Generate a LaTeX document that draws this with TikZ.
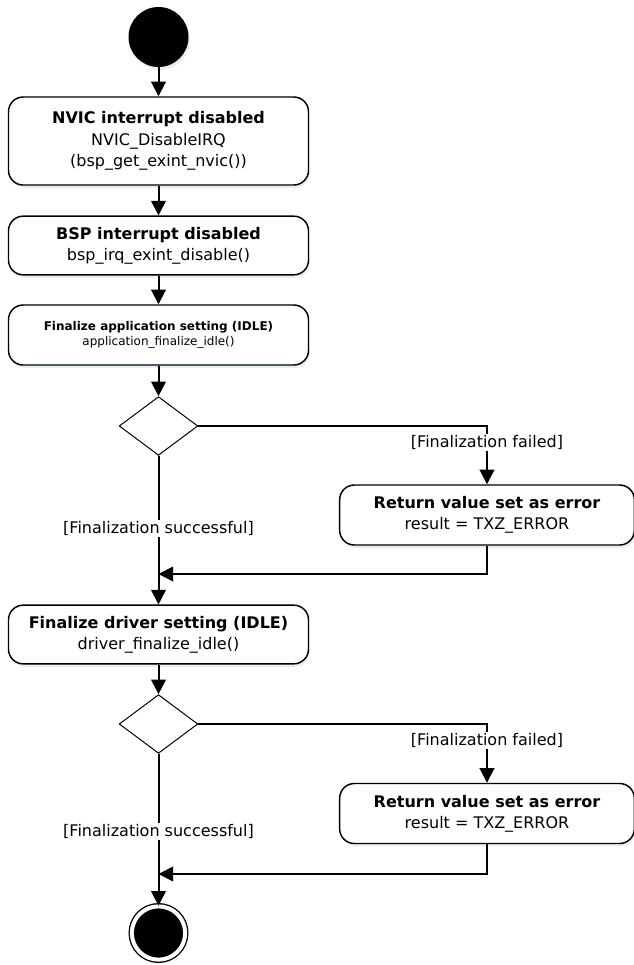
\documentclass[tikz,border=0pt]{standalone}
\usepackage{fontspec}
\setmainfont{DejaVu Sans}
\usetikzlibrary{arrows.meta,shapes.geometric,shadows}
\definecolor{shadowblue}{RGB}{206,224,244}

\begin{document}
\begin{tikzpicture}[
    x=0.75pt,y=-0.75pt,
    action/.style={rectangle,rounded corners=11pt,draw,line width=1.1pt,fill=white,align=center,
      minimum width=225pt,inner sep=2pt,font=\fontsize{12}{16}\selectfont,
      drop shadow={shadow xshift=1pt,shadow yshift=-2.2pt,fill=shadowblue}},
    smallaction/.style={action,font=\fontsize{9}{11.3}\selectfont},
    decision/.style={diamond,draw,line width=0.75pt,fill=white,inner sep=0pt,minimum width=59pt,minimum height=44pt},
    initial/.style={circle,fill=black,inner sep=0pt,minimum size=45pt,
      drop shadow={shadow xshift=1pt,shadow yshift=-2.2pt,fill=shadowblue}},
    final/.style={circle,fill=black,inner sep=0pt,minimum size=40pt,
      draw=black,line width=1pt,double=white,double distance=3pt},
    guard/.style={fill=white,inner sep=1pt,font=\fontsize{12}{14}\selectfont},
    flow/.style={-{Triangle[length=11pt,width=11pt]},line width=1.5pt}
    ]

    \useasboundingbox (0,0) rectangle (634,965);

    \node(start) [initial] at (158.5,37) {};

    \node(nvic) [action,minimum height=66pt] at (158.5,141) {
      \textbf{NVIC interrupt disabled}\\
      NVIC\_DisableIRQ\\
      (bsp\_get\_exint\_nvic())
    };

    \node(bsp) [action,minimum height=44pt] at (158.5,245.5) {
      \textbf{BSP interrupt disabled}\\
      bsp\_irq\_exint\_disable()
    };

    \node(app) [smallaction,minimum height=45pt] at (158.5,335) {
      \textbf{Finalize application setting (IDLE)}\\
      application\_finalize\_idle()
    };

    \node(app_dec) [decision] at (158.5,426) {};

    \node(err_app) [action,minimum width=221pt,minimum height=45pt] at (487,515) {
      \textbf{Return value set as error}\\
      result = TXZ\_ERROR
    };
    \coordinate(app_join) at (158.5,574);

    \node(drv) [action,minimum height=44pt] at (158.5,634.5) {
      \textbf{Finalize driver setting (IDLE)}\\
      driver\_finalize\_idle()
    };

    \node(drv_dec) [decision] at (158.5,724) {};

    \node(err_drv) [action,minimum width=221pt,minimum height=45pt] at (487,813.5) {
      \textbf{Return value set as error}\\
      result = TXZ\_ERROR
    };
    \coordinate(drv_join) at (158.5,874);

    \node(stop) [final] at (158.5,933) {};

    % main flow
    \draw[flow] (start) -- (nvic);
    \draw[flow] (nvic) -- (bsp);
    \draw[flow] (bsp) -- (app);
    \draw[flow] (app) -- (app_dec);
    \draw[flow] (app_dec) -- node(app_ok)[guard,pos=0.49] {[Finalization successful]} (drv);
    \draw[flow] (drv) -- (drv_dec);
    \draw[flow] (drv_dec) -- node(drv_ok)[guard,pos=0.51] {[Finalization successful]} (stop);

    % error branches
    \draw[flow] (app_dec.east) -| node(app_fail)[guard,pos=0.64] {[Finalization failed]} (err_app.north);
    \draw[flow] (err_app.south) |- (app_join);
    \draw[flow] (drv_dec.east) -| node(drv_fail)[guard,pos=0.64] {[Finalization failed]} (err_drv.north);
    \draw[flow] (err_drv.south) |- (drv_join);

\end{tikzpicture}
\end{document}
